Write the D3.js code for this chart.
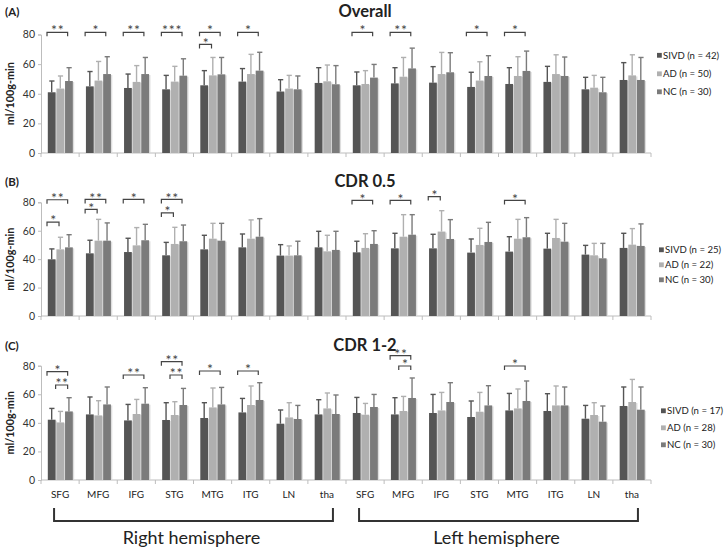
<!DOCTYPE html>
<html><head><meta charset="utf-8">
<script src="https://cdn.jsdelivr.net/npm/d3@7"></script>
<style>body{margin:0;background:#fff}svg{display:block}text{font-family:Lato,"Open Sans",sans-serif}</style>
</head><body><div id="chart"></div>
<script>
// ---------------- data ----------------
const regions = ["SFG","MFG","IFG","STG","MTG","ITG","LN","tha"];
const hemispheres = ["Right hemisphere","Left hemisphere"];
const series = ["SIVD","AD","NC"];
const panelTitles = ["Overall","CDR 0.5","CDR 1-2"];
const panelTags = ["(A)","(B)","(C)"];
const legendLabels = [
  ["SIVD (n = 42)","AD (n = 50)","NC (n = 30)"],
  ["SIVD (n = 25)","AD (n = 22)","NC (n = 30)"],
  ["SIVD (n = 17)","AD (n = 28)","NC (n = 30)"]
];
const yTicks = [0,20,40,60,80];

// Panel A – Overall
const overallSIVD   = [41,45,43.9,43,45.7,48.2,41.5,47.3, 45.7,47,47.5,44.6,46.6,48,43,49.3];
const overallSIVDsd = [7.6,10,9.4,9.4,9.9,8.8,8,10.3, 9,10.6,10.8,9.9,11,10.5,8.1,11.7];
const overallAD     = [43.5,48.9,48,48.2,52.4,53.3,43.5,48.4, 46.6,51.5,53.3,48.9,52,53.3,44.1,52.4];
const overallADsd   = [8.5,12.9,11,10.3,12.1,13.3,8.9,11, 9,13,14.6,12.7,13,13,8.3,13.9];
const overallNC     = [48.6,53.3,53.3,52.2,53.1,55.6,43,46.4, 50.9,57.1,54.5,52,55.4,52,41,49.3];
const overallNCsd   = [9,11.7,11.2,11.4,11.4,12.4,9,12.6, 8.9,13.7,13.2,13.7,13.4,12.8,10.1,15.2];
// Panel B – CDR 0.5
const cdr05SIVD   = [39.9,44.1,45,42.7,46.9,48.3,42.5,48.3, 44.8,47.6,47.6,44.6,45.3,47.4,43.2,47.9];
const cdr05SIVDsd = [7.3,9.2,9.7,9.1,9.9,9.4,7.7,11.3, 7.8,10.6,9.9,9.6,10.5,10.8,6.5,10.3];
const cdr05AD     = [46.9,53,49.7,50.7,54.4,54.4,42.5,45.5, 47.9,55.8,59.4,50,54.4,54.9,42.7,50.2];
const cdr05ADsd   = [8.5,15,12.5,11.7,10.8,13.2,6.8,11.3, 10,15.5,14.7,11.7,13.6,13.1,8.4,11.3];
const cdr05NC     = [48.3,53,53.3,52.6,53,55.8,42.7,46.5, 50.7,57.2,54.2,52.1,55.4,52.3,40.6,49.3];
const cdr05NCsd   = [8.9,12.5,11.2,11.4,12.2,12.7,9.9,13.1, 9.3,14.1,13.6,13.8,13.8,12.9,10.5,15.5];
// Panel C – CDR 1-2
const cdr12SIVD   = [42.2,45.9,41.7,42,43.4,47.3,39.4,45.9, 46.9,45.9,46.9,44.1,48.7,48.3,42.9,51.8];
const cdr12SIVDsd = [7.9,12.2,11.2,12.1,10.7,9.8,9.6,10.3, 10.9,11.7,13,11.2,11.9,12.1,9.3,13.3];
const cdr12AD     = [40.3,45.2,46.2,45.5,50.8,52.5,43.8,50.1, 45.7,48.3,48.7,47.8,50.1,52.2,45.5,54.6];
const cdr12ADsd   = [7.7,10.3,10.2,9.3,13.6,13.3,10.3,10.8, 7.9,10.2,12.6,13.5,13.6,13.6,8.6,15.8];
const cdr12NC     = [48,52.9,53.4,52.5,52.9,56,42.7,46.2, 51.1,57.4,54.6,52.2,55.3,52.2,40.8,49.2];
const cdr12NCsd   = [9.6,12.2,11.2,11.6,11.9,12.1,9.5,13.3, 8.8,14,13.5,13.8,14,12.9,11,15.9];

// significance: [groupIndex, fromSeries, toSeries, bracketLevel, stars]
const sigOverall = [[0,0,2,81.5,"**"],[1,0,2,81.5,"*"],[2,0,2,81.5,"**"],[3,0,2,81.5,"***"],
  [4,0,2,81.5,"*"],[4,0,1,73.3,"*"],[5,0,2,81.5,"*"],[8,0,2,81.5,"*"],[9,0,2,81.5,"**"],
  [11,0,2,81.5,"*"],[12,0,2,81.5,"*"]];
const sigCdr05 = [[0,0,2,81.8,"**"],[0,0,1,66,"*"],[1,0,2,82,"**"],[1,0,1,75,"*"],[2,0,2,82,"*"],
  [3,0,2,82,"**"],[3,0,1,72.5,"*"],[8,0,2,81.3,"*"],[9,0,2,81.3,"*"],[10,0,1,84,"*"],[12,0,2,81.3,"*"]];
const sigCdr12 = [[0,0,2,75.8,"*"],[0,1,2,66.5,"**"],[2,0,2,73.5,"**"],[3,0,2,82.8,"**"],[3,1,2,73.5,"**"],
  [4,0,2,76.3,"*"],[5,0,2,76.3,"*"],[9,0,2,87,"**"],[9,1,2,79.8,"*"],[12,0,2,79.8,"*"]];

const panelData = [
  {means:[overallSIVD,overallAD,overallNC], sds:[overallSIVDsd,overallADsd,overallNCsd], sig:sigOverall},
  {means:[cdr05SIVD,cdr05AD,cdr05NC], sds:[cdr05SIVDsd,cdr05ADsd,cdr05NCsd], sig:sigCdr05},
  {means:[cdr12SIVD,cdr12AD,cdr12NC], sds:[cdr12SIVDsd,cdr12ADsd,cdr12NCsd], sig:sigCdr12}
];

// ---------------- layout ----------------
const W = 724, H = 547;
const colors = ["#555555","#b0b0b0","#7b7b7b"];
const panelLayout = [
  {top:34.5, bottom:153, titleY:17, legY:[55.5,74,92]},
  {top:202.3, bottom:316, titleY:187, legY:[250,265,280]},
  {top:365.7, bottom:480, titleY:351, legY:[411,428,445]}
];
const legX = [657, 659, 661];

const groups = hemispheres.flatMap(h => regions.map(r => h + "|" + r));
const x = d3.scaleBand().domain(groups).range([41, 651]).padding(0);
const xb = d3.scaleBand().domain(series).range([6.8, 31.8]).paddingInner(0.1);

const svg = d3.select("#chart").append("svg").attr("width", W).attr("height", H);

panelData.forEach((pd, p) => {
  const L = panelLayout[p];
  const y = d3.scaleLinear().domain([0, 80]).range([L.bottom, L.top]);
  const g = svg.append("g");

  // titles
  g.append("text").attr("x", 365).attr("y", L.titleY).attr("text-anchor","middle")
    .attr("font-size", 16.5).attr("font-weight", "bold").attr("fill", "#222").text(panelTitles[p]);
  g.append("text").attr("x", 5).attr("y", L.titleY - 1).attr("font-size", 11.5)
    .attr("font-weight", "bold").attr("fill", "#222").text(panelTags[p]);

  // y axis
  const yAxis = d3.axisLeft(y).tickValues(yTicks).tickSize(3).tickPadding(3);
  const ya = g.append("g").attr("transform", `translate(41,0)`).call(yAxis);
  ya.select(".domain").attr("stroke", "#bdbdbd");
  ya.selectAll(".tick line").attr("stroke", "#bdbdbd");
  ya.selectAll(".tick text").attr("font-size", 10.5).attr("fill", "#333").attr("font-family", "Lato, sans-serif");

  // y label
  g.append("text").attr("transform", `translate(14,${(L.top + L.bottom)/2}) rotate(-90)`)
    .attr("text-anchor","middle").attr("font-size", 10.8).attr("font-weight","bold").attr("fill","#222")
    .text("ml/100g-min");

  // x axis (group boundaries)
  const xAxisLine = g.append("g").attr("transform", `translate(0,${L.bottom})`);
  xAxisLine.append("line").attr("x1", 41).attr("x2", 651).attr("stroke", "#bdbdbd");
  xAxisLine.selectAll("line.tk").data(groups.concat(["end"])).join("line").attr("class","tk")
    .attr("x1", d => d === "end" ? x.range()[1] : x(d)).attr("x2", d => d === "end" ? x.range()[1] : x(d))
    .attr("y1", 0).attr("y2", 4).attr("stroke", "#bdbdbd");

  // bars
  const rows = [];
  groups.forEach((grp, gi) => series.forEach((s, si) => rows.push({grp, gi, s, si, v: pd.means[si][gi], sd: pd.sds[si][gi]})));

  g.selectAll("rect.shadow").data(rows).join("rect").attr("class","shadow")
    .attr("x", d => x(d.grp) + xb(d.s) + 1.4).attr("y", d => y(d.v) + 1)
    .attr("width", xb.bandwidth()).attr("height", d => y(0) - y(d.v) - 1)
    .attr("fill", "#d6d6d6").attr("opacity", 0.8);
  g.selectAll("rect.bar").data(rows).join("rect").attr("class","bar")
    .attr("x", d => x(d.grp) + xb(d.s)).attr("y", d => y(d.v))
    .attr("width", xb.bandwidth()).attr("height", d => y(0) - y(d.v))
    .attr("fill", d => colors[d.si]);

  // error bars (upper only)
  const cx = d => x(d.grp) + xb(d.s) + xb.bandwidth()/2;
  g.selectAll("line.err").data(rows).join("line").attr("class","err")
    .attr("x1", cx).attr("x2", cx).attr("y1", d => y(d.v)).attr("y2", d => y(d.v + d.sd))
    .attr("stroke", d => colors[d.si]).attr("stroke-width", 1.4);
  g.selectAll("line.cap").data(rows).join("line").attr("class","cap")
    .attr("x1", d => cx(d) - 2.4).attr("x2", d => cx(d) + 2.8)
    .attr("y1", d => y(d.v + d.sd)).attr("y2", d => y(d.v + d.sd))
    .attr("stroke", d => colors[d.si]).attr("stroke-width", 1.4);

  // significance brackets
  pd.sig.forEach(([gi, a, b, lvl, stars]) => {
    const grp = groups[gi];
    const x1 = x(grp) + xb(series[a]) - 0.8;
    const x2 = x(grp) + xb(series[b]) + 2.6;
    const yy = y(lvl);
    g.append("path").attr("d", `M${x1},${yy + 4}V${yy}H${x2}V${yy + 4}`)
      .attr("fill","none").attr("stroke","#444").attr("stroke-width",1.2);
    g.append("text").attr("x", (x1 + x2)/2 + 0.5).attr("y", yy + 3.2).attr("text-anchor","middle")
      .attr("font-size", 14).attr("letter-spacing", 0.8).attr("fill","#444").text(stars);
  });

  // legend
  series.forEach((s, si) => {
    g.append("rect").attr("x", legX[p]).attr("y", L.legY[si] - 2.6).attr("width", 4.8).attr("height", 4.8)
      .attr("fill", colors[si]);
    g.append("text").attr("x", legX[p] + 6).attr("y", L.legY[si] + 3.4).attr("font-size", 9.6)
      .attr("fill", "#222").text(legendLabels[p][si]);
  });

  // x labels on the last panel
  if (p === 2) {
    g.selectAll("text.xl").data(groups).join("text").attr("class","xl")
      .attr("x", d => x(d) + x.bandwidth()/2).attr("y", 498).attr("text-anchor","middle")
      .attr("font-size", 10).attr("fill","#222").text(d => d.split("|")[1]);
  }
});

// hemisphere brackets
hemispheres.forEach((h, hi) => {
  const first = groups[hi*8], last = groups[hi*8 + 7];
  const x1 = x(first) + x.bandwidth()/2 - 6;
  const x2 = x(last) + x.bandwidth()/2 + 6;
  svg.append("path").attr("d", `M${x1},508V521H${x2}V508`).attr("fill","none")
    .attr("stroke","#333").attr("stroke-width",2);
  svg.append("text").attr("x", (x1 + x2)/2 - 2).attr("y", 544).attr("text-anchor","middle")
    .attr("font-size", 18).attr("fill","#222").text(h);
});
</script></body></html>
